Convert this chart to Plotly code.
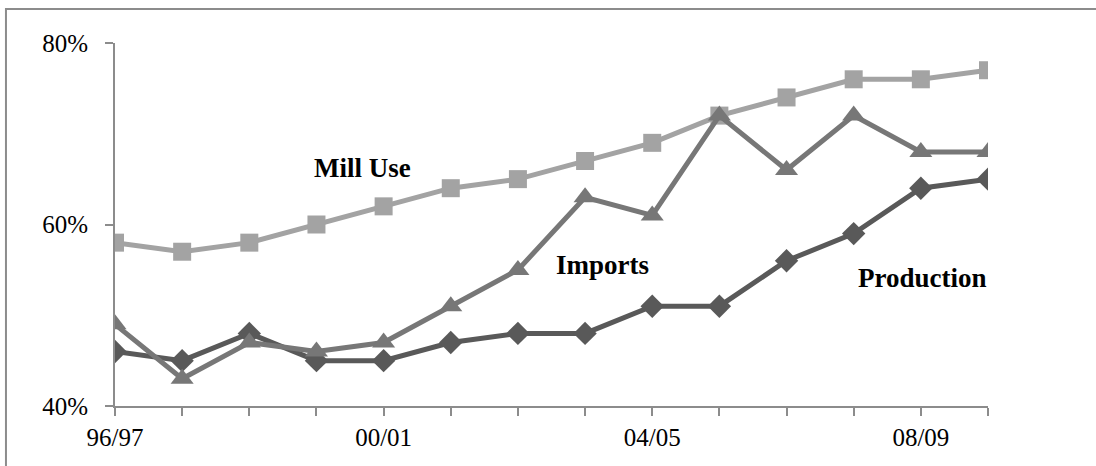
import plotly.graph_objects as go

categories = ["96/97", "97/98", "98/99", "99/00", "00/01", "01/02", "02/03",
              "03/04", "04/05", "05/06", "06/07", "07/08", "08/09", "09/10"]
tick_labels = ["96/97", "", "", "", "00/01", "", "", "", "04/05", "", "", "", "08/09", ""]
mill_use = [58, 57, 58, 60, 62, 64, 65, 67, 69, 72, 74, 76, 76, 77]
imports = [49, 43, 47, 46, 47, 51, 55, 63, 61, 72, 66, 72, 68, 68]
production = [46, 45, 48, 45, 45, 47, 48, 48, 51, 51, 56, 59, 64, 65]

x = list(range(len(categories)))

fig = go.Figure()
fig.add_trace(go.Scatter(x=x, y=mill_use, mode="lines+markers", name="Mill Use",
                         line=dict(color="#a3a3a3", width=5),
                         marker=dict(symbol="square", size=18, color="#a3a3a3")))
fig.add_trace(go.Scatter(x=x, y=production, mode="lines+markers", name="Production",
                         line=dict(color="#595959", width=5),
                         marker=dict(symbol="diamond", size=18, color="#595959")))
fig.add_trace(go.Scatter(x=x, y=imports, mode="lines+markers", name="Imports",
                         line=dict(color="#777777", width=5),
                         marker=dict(symbol="triangle-up", size=20, color="#777777")))

font_family = "Liberation Serif"
fig.update_layout(
    width=1096, height=466,
    margin=dict(l=115, r=108, t=43, b=60),
    paper_bgcolor="white", plot_bgcolor="white",
    showlegend=False,
    font=dict(family=font_family, size=25, color="black"),
    xaxis=dict(range=[0, 13], tickmode="array", tickvals=x, ticktext=tick_labels,
               showgrid=False, zeroline=False, showline=True, linecolor="#8c8c8c",
               linewidth=2, ticks="outside", ticklen=8, tickwidth=2, tickcolor="#8c8c8c",
               tickfont=dict(family=font_family, size=25, color="black")),
    yaxis=dict(range=[40, 80], tickvals=[40, 60, 80], ticktext=["40%", "60%", "80%"],
               showgrid=False, zeroline=False, showline=True, linecolor="#8c8c8c",
               linewidth=2, ticks="outside", ticklen=8, tickwidth=2, tickcolor="#8c8c8c",
               ticklabelstandoff=12,
               tickfont=dict(family=font_family, size=25, color="black")),
)

fig.add_shape(type="rect", xref="paper", yref="paper",
              x0=-0.1249, x1=1.3, y0=-0.5, y1=1.0937,
              line=dict(color="#8c8c8c", width=2), layer="below")

for text, ax_, ay_ in [("Mill Use", 3.68, 66.2), ("Imports", 7.26, 55.5), ("Production", 12.03, 54.1)]:
    fig.add_annotation(x=ax_, y=ay_, text="<b>" + text + "</b>", showarrow=False,
                       font=dict(family=font_family, size=27, color="black"))

fig.write_html("out.html", config={"displayModeBar": False},
               post_script="document.body.style.margin='0';")
